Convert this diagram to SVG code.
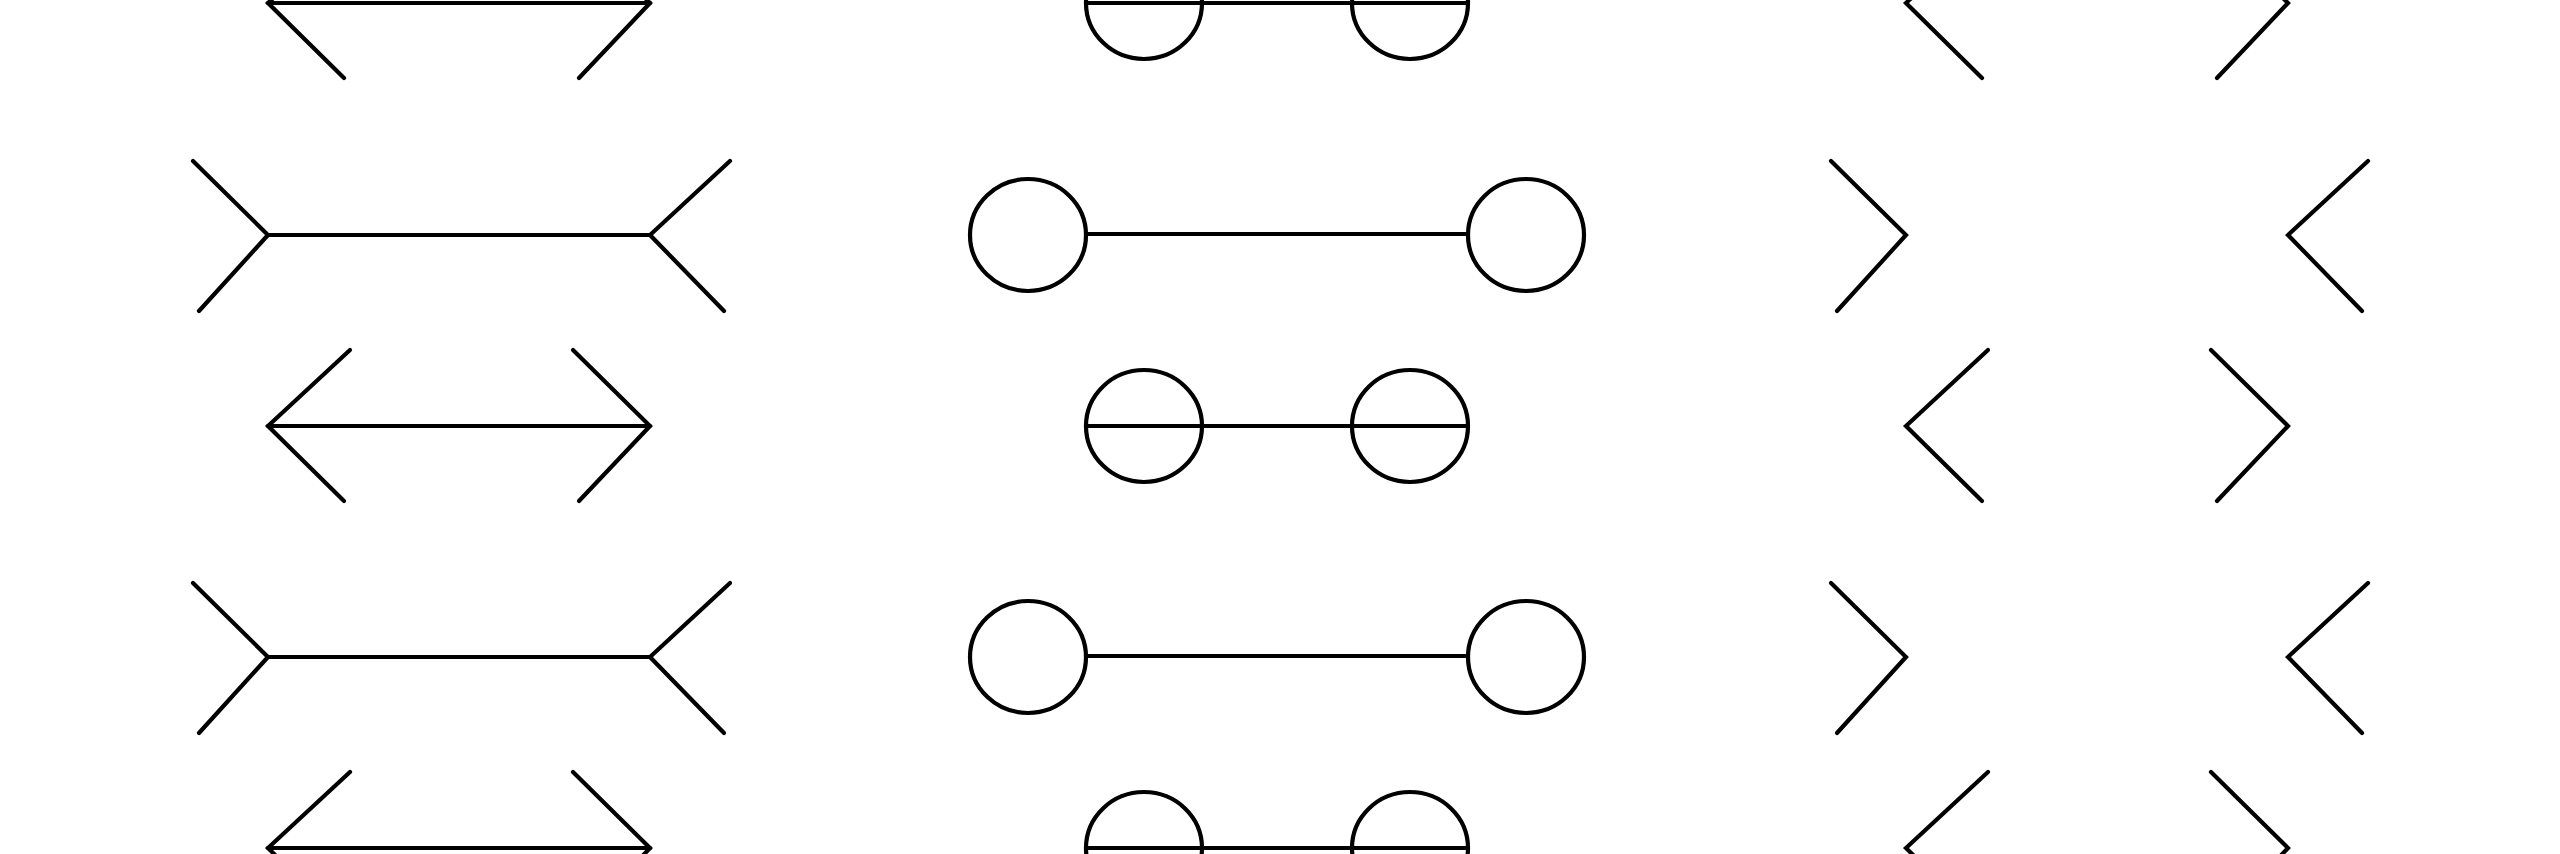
<svg xmlns="http://www.w3.org/2000/svg" xmlns:xlink="http://www.w3.org/1999/xlink" width="2560" height="854" viewBox="0 0 2560 854">
<style>
.s{fill:none;stroke:#000;stroke-width:4.2;stroke-linecap:round;stroke-linejoin:miter}
</style>
<defs>
<g id="finIn" class="s">
<polyline points="350,-76 268,0 344,75"/>
<polyline points="573,-76 650,0 579,75"/>
</g>
<g id="finOut" class="s">
<polyline points="193,-74 268,0 199,76"/>
<polyline points="730,-74 650,0 724,76"/>
</g>
<g id="ellIn" class="s">
<ellipse cx="1144" cy="0" rx="58" ry="56"/>
<ellipse cx="1410" cy="0" rx="58" ry="56"/>
</g>
<g id="ellOut" class="s">
<ellipse cx="1028" cy="0" rx="58" ry="56"/>
<ellipse cx="1526" cy="0" rx="58" ry="56"/>
</g>
</defs>
<rect width="2560" height="854" fill="#fff"/>
<g id="connectors" class="s">
<line x1="268" y1="3" x2="650" y2="3"/>
<line x1="268" y1="235" x2="650" y2="235"/>
<line x1="268" y1="426" x2="650" y2="426"/>
<line x1="268" y1="657" x2="650" y2="657"/>
<line x1="268" y1="848" x2="650" y2="848"/>
<line x1="1086" y1="3" x2="1468" y2="3"/>
<line x1="1086" y1="234" x2="1468" y2="234"/>
<line x1="1086" y1="426" x2="1468" y2="426"/>
<line x1="1086" y1="656" x2="1468" y2="656"/>
<line x1="1086" y1="848" x2="1468" y2="848"/>
</g>
<g id="left-r1"><use xlink:href="#finIn" href="#finIn" transform="translate(0,3)"/></g>
<g id="left-r2"><use xlink:href="#finOut" href="#finOut" transform="translate(0,235)"/></g>
<g id="left-r3"><use xlink:href="#finIn" href="#finIn" transform="translate(0,426)"/></g>
<g id="left-r4"><use xlink:href="#finOut" href="#finOut" transform="translate(0,657)"/></g>
<g id="left-r5"><use xlink:href="#finIn" href="#finIn" transform="translate(0,848)"/></g>
<g id="mid-r1"><use xlink:href="#ellIn" href="#ellIn" transform="translate(0,3)"/></g>
<g id="mid-r2"><use xlink:href="#ellOut" href="#ellOut" transform="translate(0,235)"/></g>
<g id="mid-r3"><use xlink:href="#ellIn" href="#ellIn" transform="translate(0,426)"/></g>
<g id="mid-r4"><use xlink:href="#ellOut" href="#ellOut" transform="translate(0,657)"/></g>
<g id="mid-r5"><use xlink:href="#ellIn" href="#ellIn" transform="translate(0,848)"/></g>
<g id="right-r1"><use xlink:href="#finIn" href="#finIn" transform="translate(1638,3)"/></g>
<g id="right-r2"><use xlink:href="#finOut" href="#finOut" transform="translate(1638,235)"/></g>
<g id="right-r3"><use xlink:href="#finIn" href="#finIn" transform="translate(1638,426)"/></g>
<g id="right-r4"><use xlink:href="#finOut" href="#finOut" transform="translate(1638,657)"/></g>
<g id="right-r5"><use xlink:href="#finIn" href="#finIn" transform="translate(1638,848)"/></g>
</svg>
